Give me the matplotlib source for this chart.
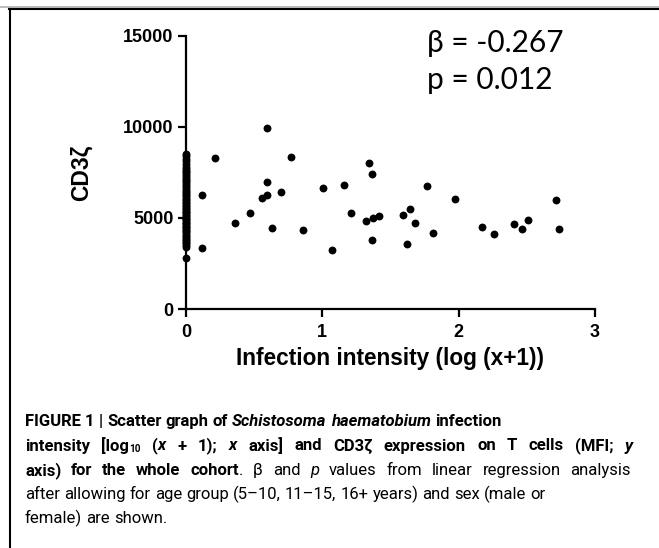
import matplotlib
matplotlib.use("Agg")
import matplotlib.pyplot as plt
import numpy as np

# infection intensity (log(x+1)) and CD3zeta MFI
x_pos = [0.12, 0.12, 0.213, 0.36, 0.47, 0.555, 0.592, 0.597, 0.597, 0.629, 0.695, 0.768,
         0.856, 1.007, 1.073, 1.159, 1.211, 1.32, 1.345, 1.362, 1.365, 1.37, 1.416,
         1.592, 1.624, 1.643, 1.678, 1.768, 1.812, 1.976, 2.172, 2.262, 2.409, 2.468,
         2.512, 2.715, 2.734]
y_pos = [6257, 3364, 8304, 4737, 5285, 6109, 9918, 6257, 6987, 4429, 6438, 8359,
         4319, 6624, 3222, 6822, 5285, 4813, 8030, 3787, 7393, 5011, 5088,
         5176, 3584, 5488, 4720, 6734, 4155, 6021, 4484, 4133, 4682, 4374,
         4868, 6000, 4390]
# uninfected children (x = 0), a dense column
y_zero = [2780, 3400, 3500, 3600, 3700, 3780, 3850, 3950, 4020, 4100, 4200, 4260, 4350,
          4420, 4500, 4560, 4650, 4720, 4800, 4860, 4950, 5000, 5100, 5160, 5250, 5310,
          5400, 5500, 5560, 5650, 5720, 5800, 5900, 6000, 6060, 6150, 6250, 6310, 6400,
          6500, 6600, 6700, 6800, 6900, 7000, 7100, 7200, 7300, 7400, 7500, 7600, 7700,
          7800, 7950, 8100, 8250, 8400, 8500]

x_ticks = [0, 1, 2, 3]
y_ticks = [0, 5000, 10000, 15000]

fig = plt.figure(figsize=(6.59, 5.48), dpi=100)
W, H = 659, 548

ax = fig.add_axes([186 / W, 1 - 309 / H, 409 / W, 273.3 / H])
ax.scatter([0] * len(y_zero), y_zero, s=32, color='black', clip_on=False, zorder=3, linewidths=0)
ax.scatter(x_pos, y_pos, s=32, color='black', clip_on=False, zorder=3, linewidths=0)

ax.set_xlim(0, 3)
ax.set_ylim(0, 15000)
ax.set_xticks(x_ticks)
ax.set_yticks(y_ticks)
for s in ['top', 'right']:
    ax.spines[s].set_visible(False)
for s in ['left', 'bottom']:
    ax.spines[s].set_linewidth(1.6)
ax.tick_params(length=6, width=1.6, pad=3, labelsize=13)
ax.tick_params(axis='x', pad=5)
for lab in ax.get_xticklabels() + ax.get_yticklabels():
    lab.set_fontweight('bold')
    lab.set_family('Liberation Sans')

ax.set_xlabel("Infection intensity (log (x+1))", fontsize=16.3, fontweight='bold', family='Liberation Sans')
ax.set_ylabel("CD3ζ", fontsize=16.5, fontweight='bold', family='Liberation Sans')
ax.xaxis.set_label_coords(0.5, (309 - 347) / 273.3)
ax.yaxis.set_label_coords((93 - 186) / 409, 0.5)

fig.text(426.7 / W, 1 - 52 / H, "β = -0.267", fontsize=21.5, family='Lato', va='baseline')
fig.text(426.7 / W, 1 - 89 / H, "p = 0.012", fontsize=21.5, family='Lato', va='baseline')

# frame of the figure panel
fig.add_artist(plt.Line2D([0, 1], [1 - 6.5 / H, 1 - 6.5 / H], color='#b0b0b0', lw=1.2))
fig.add_artist(plt.Line2D([9 / W, 1], [1 - 8.5 / H, 1 - 8.5 / H], color='black', lw=1.5))
fig.add_artist(plt.Line2D([9.5 / W, 9.5 / W], [0, 1 - 8.5 / H], color='black', lw=1.5))

# caption, drawn word by word; lines 2 and 3 are justified
fam = ['Roboto', 'DejaVu Sans']
cap_size = 12
caption = [
    [("FIGURE 1 | Scatter graph of ", 'bold', 'normal'), ("Schistosoma haematobium", 'bold', 'italic'),
     (" infection", 'bold', 'normal')],
    [("intensity [log", 'bold', 'normal'), ("10", 'sub', 'normal'), (" (", 'bold', 'normal'),
     ("x", 'bold', 'italic'), (" + 1); ", 'bold', 'normal'), ("x", 'bold', 'italic'),
     (" axis] and CD3ζ expression on T cells (MFI; ", 'bold', 'normal'), ("y", 'bold', 'italic')],
    [("axis) for the whole cohort", 'bold', 'normal'), (". β and ", 'normal', 'normal'),
     ("p", 'normal', 'italic'), (" values from linear regression analysis", 'normal', 'normal')],
    [("after allowing for age group (5–10, 11–15, 16+ years) and sex (male or", 'normal', 'normal')],
    [("female) are shown.", 'normal', 'normal')],
]
baselines = [426, 450.5, 475, 499, 523]
line_ends = [None, 633, 631, None, None]

renderer = fig.canvas.get_renderer()


def pieces(runs):
    out = []
    for txt, wt, st in runs:
        parts = txt.split(' ')
        for i, p in enumerate(parts):
            if i > 0:
                out.append((' ', wt, st))
            if p:
                out.append((p, wt, st))
    return out


for runs, yb, xend in zip(caption, baselines, line_ends):
    items = []
    for txt, wt, st in pieces(runs):
        size, dy = cap_size, 0
        if wt == 'sub':
            wt, size, dy = 'bold', cap_size * 0.6, 2
        if txt == ' ':
            t = fig.text(0, 0, 'a a', fontsize=size, fontweight=wt, fontstyle=st, family=fam)
            t2 = fig.text(0, 0, 'aa', fontsize=size, fontweight=wt, fontstyle=st, family=fam)
            w = t.get_window_extent(renderer).width - t2.get_window_extent(renderer).width
            t.remove()
            t2.remove()
            items.append((None, w))
        else:
            t = fig.text(0, 1 - (yb + dy) / H, txt, fontsize=size, fontweight=wt, fontstyle=st,
                         family=fam, va='baseline', ha='left')
            items.append((t, t.get_window_extent(renderer).width))
    total = sum(w for _, w in items)
    n_sp = sum(1 for t, _ in items if t is None)
    extra = 0 if xend is None else (xend - 25 - total) / n_sp
    xp = 25
    for t, w in items:
        if t is None:
            xp += w + extra
        else:
            t.set_x(xp / W)
            xp += w

fig.savefig("out.png", dpi=100)
